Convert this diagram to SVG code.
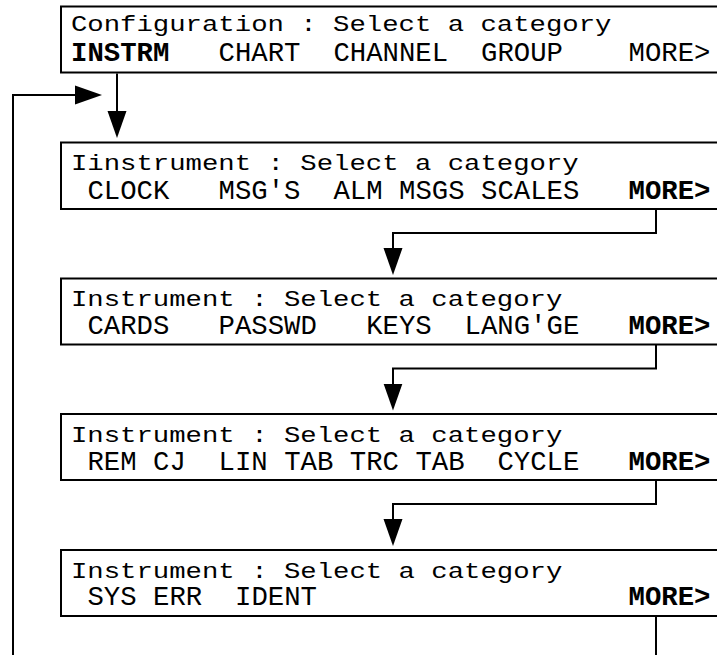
<svg xmlns="http://www.w3.org/2000/svg" width="717" height="655" viewBox="0 0 717 655">
<defs>
<style>
.box{fill:#fff;stroke:#000;stroke-width:2}
.t{font-family:"Liberation Mono","Courier New",monospace;font-size:27.3px;fill:#000}
.b{font-weight:bold}
.c{fill:none;stroke:#000;stroke-width:2}
</style>
<marker id="ah" markerUnits="userSpaceOnUse" markerWidth="28" markerHeight="20" refX="23" refY="10" orient="auto" viewBox="0 0 28 20"><path d="M0,0.5 L27,10 L0,19.5 z" fill="#000"/></marker>
</defs>
<rect width="717" height="655" fill="#fff"/>
<g id="connectors">
<path class="c" d="M117,73.5 V134" marker-end="url(#ah)"/>
<path class="c" d="M13,655 V95 H98" marker-end="url(#ah)"/>
<path class="c" d="M656,209 V233 H393 V271" marker-end="url(#ah)"/>
<path class="c" d="M656,344.5 V368.5 H393 V406.5" marker-end="url(#ah)"/>
<path class="c" d="M656,480 V504 H393 V542" marker-end="url(#ah)"/>
<path class="c" d="M656,616 V656"/>
</g>
<g id="config">
<rect class="box" x="61" y="6.5" width="680" height="66"/>
<g transform="translate(0,31) scale(1,0.82)"><text class="t" x="71" y="0">Configuration : Select a category</text></g>
<text class="t" y="61"><tspan class="b" x="71">INSTRM</tspan><tspan x="218.6">CHART</tspan><tspan x="333.4">CHANNEL</tspan><tspan x="481">GROUP</tspan><tspan x="628.6">MORE&gt;</tspan></text>
</g>
<g id="instrument1">
<rect class="box" x="61" y="142.5" width="680" height="66.5"/>
<g transform="translate(0,170) scale(1,0.82)"><text class="t" x="71" y="0">Iinstrument : Select a category</text></g>
<text class="t" y="198.5"><tspan x="87.4">CLOCK</tspan><tspan x="218.6">MSG'S</tspan><tspan x="333.4">ALM</tspan><tspan x="399">MSGS</tspan><tspan x="481">SCALES</tspan><tspan class="b" x="628.6">MORE&gt;</tspan></text>
</g>
<g id="instrument2">
<rect class="box" x="61" y="278.5" width="680" height="66"/>
<g transform="translate(0,306) scale(1,0.82)"><text class="t" x="71" y="0">Instrument : Select a category</text></g>
<text class="t" y="334"><tspan x="87.4">CARDS</tspan><tspan x="218.6">PASSWD</tspan><tspan x="366.2">KEYS</tspan><tspan x="464.6">LANG'GE</tspan><tspan class="b" x="628.6">MORE&gt;</tspan></text>
</g>
<g id="instrument3">
<rect class="box" x="61" y="414" width="680" height="66"/>
<g transform="translate(0,441.5) scale(1,0.82)"><text class="t" x="71" y="0">Instrument : Select a category</text></g>
<text class="t" y="469.5"><tspan x="87.4">REM</tspan><tspan x="153">CJ</tspan><tspan x="218.6">LIN</tspan><tspan x="284.2">TAB</tspan><tspan x="349.8">TRC</tspan><tspan x="415.4">TAB</tspan><tspan x="497.4">CYCLE</tspan><tspan class="b" x="628.6">MORE&gt;</tspan></text>
</g>
<g id="instrument4">
<rect class="box" x="61" y="550" width="680" height="66"/>
<g transform="translate(0,577.5) scale(1,0.82)"><text class="t" x="71" y="0">Instrument : Select a category</text></g>
<text class="t" y="605"><tspan x="87.4">SYS</tspan><tspan x="153">ERR</tspan><tspan x="235">IDENT</tspan><tspan class="b" x="628.6">MORE&gt;</tspan></text>
</g>
</svg>
